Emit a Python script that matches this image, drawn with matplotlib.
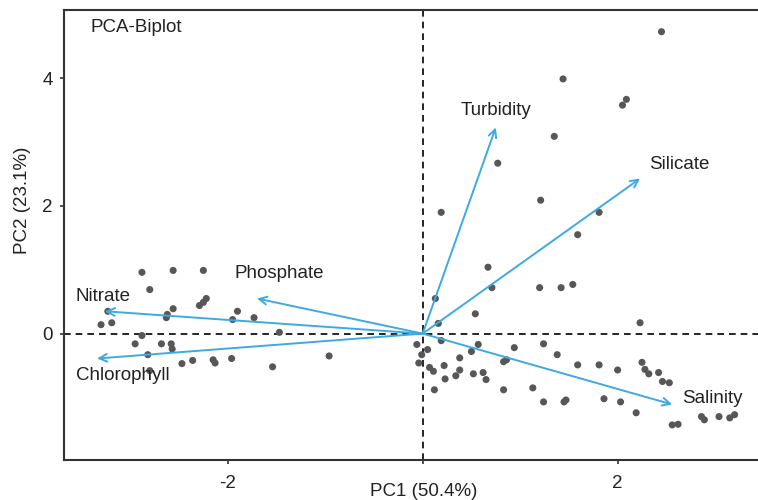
import numpy as np
import matplotlib
matplotlib.use("Agg")
import matplotlib.pyplot as plt

plt.rcParams['font.family'] = ['Liberation Sans', 'DejaVu Sans']
plt.rcParams['axes.unicode_minus'] = False

# sample scores (PC1, PC2)
pc1 = [2.45, 1.44, 2.09, 2.05, 1.35, 0.77, 1.21, 0.19, 1.81, 1.59,
       0.67, 0.71, 1.20, 1.42, 1.54, 0.13, 0.54, 0.16, 2.23,
       0.19, -0.06, 0.05, -0.01, -0.04, 0.07, 0.11, 0.22, 0.23, 0.12,
       0.38, 0.50, 0.57, 0.38, 0.34, 0.52, 0.62, 0.65, 0.83, 0.83, 0.86,
       0.94, 1.13, 1.24, 1.38, 1.24, 1.45, 1.47, 1.59, 1.81, 2.00,
       1.86, 2.03, 2.19, 2.25, 2.28, 2.32, 2.42, 2.46, 2.53, 2.56,
       2.62, 2.86, 2.89, 3.04, 3.15, 3.20,
       -2.88, -2.56, -2.25, -2.80, -2.22, -2.25, -2.29, -2.56, -2.62, -2.63,
       -3.23, -3.19, -3.30, -1.90, -1.95, -1.73, -2.88, -2.95, -2.68, -2.58,
       -2.57, -2.82, -2.47, -2.36, -2.15, -2.13, -1.96, -2.80, -1.47, -1.54,
       -0.96]
pc2 = [4.73, 3.99, 3.67, 3.58, 3.09, 2.67, 2.09, 1.90, 1.90, 1.55,
       1.04, 0.72, 0.72, 0.72, 0.77, 0.55, 0.31, 0.16, 0.17,
       -0.11, -0.17, -0.25, -0.33, -0.46, -0.53, -0.59, -0.50, -0.71, -0.88,
       -0.38, -0.28, -0.17, -0.57, -0.66, -0.63, -0.61, -0.72, -0.88, -0.44, -0.41,
       -0.22, -0.85, -0.16, -0.33, -1.07, -1.07, -1.04, -0.49, -0.49, -0.57,
       -1.02, -1.07, -1.24, -0.45, -0.56, -0.63, -0.61, -0.75, -0.77, -1.43,
       -1.42, -1.30, -1.35, -1.30, -1.32, -1.27,
       0.96, 0.99, 0.99, 0.69, 0.55, 0.49, 0.44, 0.39, 0.30, 0.25,
       0.35, 0.17, 0.14, 0.35, 0.22, 0.25, -0.03, -0.16, -0.16, -0.16,
       -0.24, -0.33, -0.47, -0.42, -0.41, -0.46, -0.39, -0.58, 0.02, -0.52,
       -0.35]

# variable loadings (arrow tips)
variables = ['Turbidity', 'Silicate', 'Salinity', 'Phosphate', 'Nitrate', 'Chlorophyll']
load_x = [0.75, 2.23, 2.56, -1.70, -3.26, -3.34]
load_y = [3.23, 2.43, -1.11, 0.55, 0.35, -0.39]

# label offsets from arrow tips (data units)
lab_dx = [0.00, 0.40, 0.41, 0.23, -0.02, 0.26]
lab_dy = [0.26, 0.22, 0.09, 0.39, 0.23, -0.27]

x_ticks = [-2, 0, 2]
x_ticklabels = ['-2', '', '2']
y_ticks = [0, 2, 4]

fig = plt.figure(figsize=(7.58, 5.0), dpi=100)
ax = fig.add_axes([0.0844, 0.08, 0.9156, 0.90])

ax.axhline(0, color='black', linestyle=(0, (4, 3)), linewidth=1.2, zorder=1)
ax.axvline(0, color='black', linestyle=(0, (4, 3)), linewidth=1.2, zorder=1)

ax.scatter(pc1, pc2, s=26, color='#575757', edgecolors='none', zorder=2)

arrow_col = '#3eaae2'
for name, x, y, dx, dy in zip(variables, load_x, load_y, lab_dx, lab_dy):
    ax.annotate('', xy=(x, y), xytext=(0, 0),
                arrowprops=dict(arrowstyle='->', color=arrow_col, lw=1.4,
                                shrinkA=0, shrinkB=0, mutation_scale=14),
                zorder=3)
    ax.text(x + dx, y + dy, name, ha='center', va='center', fontsize=13.5,
            color='#222222', zorder=4)

ax.text(-3.41, 4.79, 'PCA-Biplot', ha='left', va='center', fontsize=13.5, color='#222222')

ax.set_xlim(-3.68, 3.44)
ax.set_ylim(-1.98, 5.07)
ax.set_xticks(x_ticks)
ax.set_xticklabels(x_ticklabels)
ax.set_yticks(y_ticks)
ax.tick_params(labelsize=13.5, length=3, width=1.2, colors='#333333', labelcolor='#222222')
ax.tick_params(axis='x', pad=8)
ax.tick_params(axis='y', pad=5)

ax.set_xlabel('PC1 (50.4%)', fontsize=13.5, color='#222222')
ax.xaxis.label.set_va('center')
ax.xaxis.set_label_coords(0.519, -0.069)
ax.set_ylabel('PC2 (23.1%)', fontsize=13.5, color='#222222')
ax.yaxis.label.set_va('center')
ax.yaxis.set_label_coords(-0.0595, 0.578)

for side in ['left', 'bottom', 'top']:
    ax.spines[side].set_color('#333333')
    ax.spines[side].set_linewidth(1.5)
ax.spines['right'].set_visible(False)

fig.savefig('out.png', dpi=100)
